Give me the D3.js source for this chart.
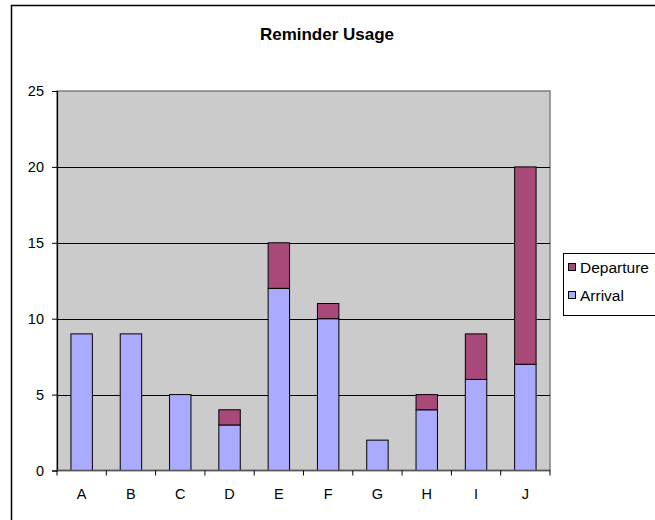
<!DOCTYPE html>
<html>
<head>
<meta charset="utf-8">
<script src="https://cdn.jsdelivr.net/npm/d3@7"></script>
<style>
  body { margin: 0; background: #fff; }
  svg text { font-family: "Liberation Sans", Arial, sans-serif; }
</style>
</head>
<body>
<div id="chart"></div>
<script>
// chart data
var categories = ["A", "B", "C", "D", "E", "F", "G", "H", "I", "J"];
var arrival    = [9, 9, 5, 3, 12, 10, 2, 4, 6, 7];
var departure  = [0, 0, 0, 1, 3, 1, 0, 1, 3, 13];
var yTicks     = [0, 5, 10, 15, 20, 25];
var seriesNames  = ["Arrival", "Departure"];
var seriesColors = ["#aaaaff", "#a9497a"];

var width  = 655;
var height = 520;

var svg = d3.select("#chart")
  .append("svg")
    .attr("width",  width)
    .attr("height", height);

// outer chart border (runs off the right and bottom edges)
svg.append("rect")
  .attr("x", 11.5)
  .attr("y", 5.5)
  .attr("width",  700)
  .attr("height", 600)
  .attr("style", "fill: #fff; stroke: #000; stroke-width: 1.5;");

svg.append("text")
  .attr("x", 327)
  .attr("y", 40)
  .attr("text-anchor", "middle")
  .attr("style", "font-size: 17px; font-weight: bold;")
  .text("Reminder Usage");

var plot = { left: 57, top: 91, right: 550, bottom: 470.5 };

var x = d3.scaleBand()
  .domain(categories)
  .range([plot.left, plot.right]);

var y = d3.scaleLinear()
  .domain([0, 25])
  .range([plot.bottom, plot.top]);

// plot area
svg.append("rect")
  .attr("x", plot.left)
  .attr("y", plot.top)
  .attr("width",  plot.right - plot.left)
  .attr("height", plot.bottom - plot.top)
  .attr("style", "fill: #cbcbcb; stroke: #808080; stroke-width: 1.5;");

// gridlines
svg.append("g")
  .selectAll("line")
  .data(yTicks.filter((d) => d > 0 && d < 25))
  .enter().append("line")
    .attr("x1", plot.left)
    .attr("x2", plot.right)
    .attr("y1", (d) => Math.round(y(d)) + 0.5)
    .attr("y2", (d) => Math.round(y(d)) + 0.5)
    .attr("style", "stroke: #000; stroke-width: 1;");

// stacked bars
var rows = categories.map((c, i) => ({ cat: c, Arrival: arrival[i], Departure: departure[i] }));
var stack = d3.stack().keys(seriesNames)(rows);

var barW = x.bandwidth() / 2.3;

stack.forEach((layer, si) => {
  svg.append("g")
    .selectAll("rect")
    .data(layer.filter((d) => d[1] > d[0]))
    .enter().append("rect")
      .attr("x", (d) => x(d.data.cat) + (x.bandwidth() - barW) / 2)
      .attr("y", (d) => y(d[1]))
      .attr("width",  barW)
      .attr("height", (d) => y(d[0]) - y(d[1]))
      .attr("style", "fill: " + seriesColors[si] + "; stroke: #000; stroke-width: 1;");
});

// y axis
var yAxis = svg.append("g")
  .attr("transform", "translate(" + plot.left + ",0)")
  .call(d3.axisLeft(y).tickValues(yTicks).tickSize(5).tickPadding(8));
yAxis.select(".domain").attr("stroke", "#000").attr("stroke-width", 1.2);
yAxis.selectAll("line").attr("stroke", "#000");
yAxis.selectAll("text")
  .attr("style", "font-size: 14.5px; fill: #000;");

// x axis: ticks sit on category boundaries
var xAxis = svg.append("g")
  .attr("transform", "translate(0," + plot.bottom + ")");
xAxis.append("line")
  .attr("x1", plot.left)
  .attr("x2", plot.right)
  .attr("style", "stroke: #555; stroke-width: 1.5;");
xAxis.selectAll(".tick")
  .data(d3.range(categories.length + 1))
  .enter().append("line")
    .attr("x1", (i) => plot.left + i * x.step())
    .attr("x2", (i) => plot.left + i * x.step())
    .attr("y1", 0)
    .attr("y2", 5)
    .attr("style", "stroke: #000; stroke-width: 1;");
xAxis.selectAll("text")
  .data(categories)
  .enter().append("text")
    .attr("x", (d) => x(d) + x.bandwidth() / 2)
    .attr("y", 28)
    .attr("text-anchor", "middle")
    .attr("style", "font-size: 14.5px;")
    .text((d) => d);

// legend
var legend = svg.append("g");
legend.append("rect")
  .attr("x", 563.5)
  .attr("y", 253.5)
  .attr("width",  120)
  .attr("height", 62)
  .attr("style", "fill: #fff; stroke: #000; stroke-width: 1;");

var legendItems = [
  { name: seriesNames[1], color: seriesColors[1] },
  { name: seriesNames[0], color: seriesColors[0] }
];

legendItems.forEach((d, i) => {
  var cy = 267 + i * 28;
  legend.append("rect")
    .attr("x", 568.5)
    .attr("y", cy - 3.5)
    .attr("width",  7)
    .attr("height", 7)
    .attr("style", "fill: " + d.color + "; stroke: #000; stroke-width: 1;");
  legend.append("text")
    .attr("x", 580)
    .attr("y", cy + 5.5)
    .attr("style", "font-size: 15.5px;")
    .text(d.name);
});
</script>
</body>
</html>
